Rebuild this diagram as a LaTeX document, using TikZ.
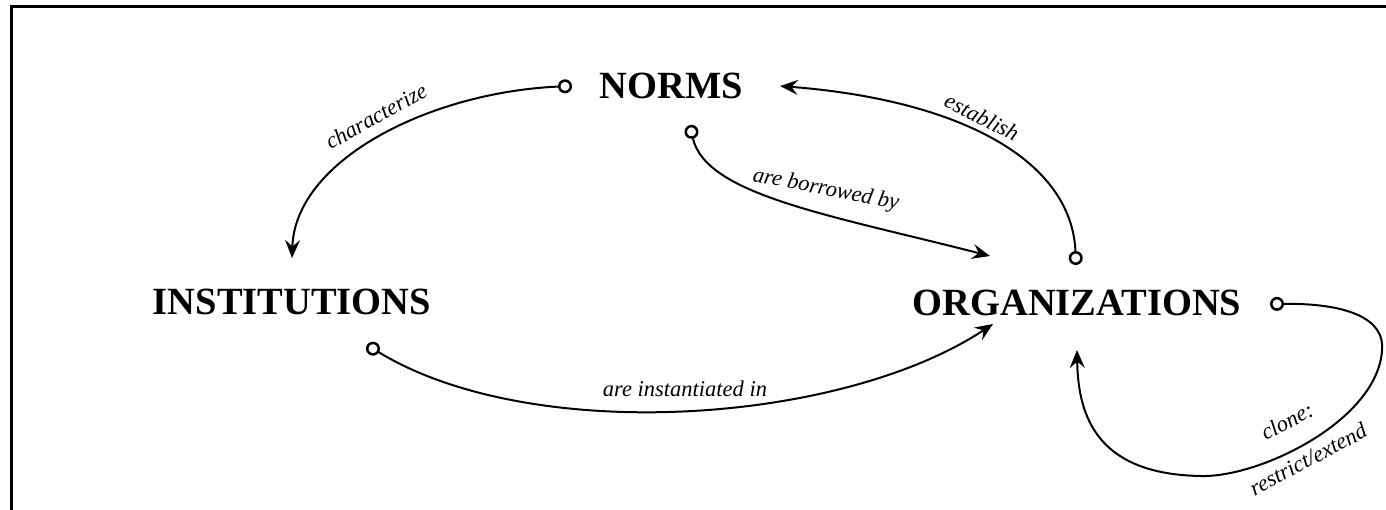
\documentclass[tikz,border=0pt]{standalone}
\usepackage{fontspec}
\setmainfont{Liberation Serif}
\usetikzlibrary{arrows.meta}
\begin{document}
\begin{tikzpicture}[x=1pt,y=-1pt,
  concept/.style={font=\fontsize{38.5}{40}\selectfont\bfseries, inner sep=0pt, anchor=base},
  lbl/.style={font=\fontsize{22.5}{24}\selectfont\itshape, inner sep=0pt},
  link/.style={line width=2pt, {Circle[open,length=14pt,line width=2.5pt]}-{Stealth[length=18pt,width=15pt,inset=6.5pt]}},
  frame/.style={line width=3pt}]
\useasboundingbox (0,0) rectangle (1386,510);
% frame
\coordinate (fa) at (11.5,512);
\coordinate (fb) at (11.5,6.5);
\coordinate (fc) at (1388,6.5);
\draw[frame] (fa) -- (fb) -- (fc);
% concepts
\node[concept] (norms) at (671.5,99) {NORMS};
\node[concept] (inst) at (292,315) {INSTITUTIONS};
\node[concept] (org) at (1077,316) {ORGANIZATIONS};
% connector end points
\coordinate (cn1) at (572,86);
\coordinate (ci1) at (292,258);
\coordinate (co1) at (1076,265);
\coordinate (cn2) at (780,86);
\coordinate (cn3) at (690,125);
\coordinate (co2) at (990,256);
\coordinate (ci2) at (367,345);
\coordinate (co3) at (993,324);
\coordinate (co4) at (1270,304);
\coordinate (co5) at (1077,350);
% connectors
\draw[link] (cn1) .. controls (430,92) and (295,160) .. (ci1);
\draw[link] (co1) .. controls (1072,160) and (960,100) .. (cn2);
\draw[link] (cn3) .. controls (705,195) and (830,215) .. (co2);
\draw[link] (ci2) .. controls (530,445) and (840,425) .. (co3);
\draw[link] (co4) .. controls (1350,303) and (1385,320) .. (1382,350)
  .. controls (1378,420) and (1260,478) .. (1200,476)
  .. controls (1100,474) and (1078,420) .. (co5);
% labels
\node[lbl, rotate=29] (l1) at (376,116) {characterize};
\node[lbl, rotate=-27] (l2) at (982,117) {establish};
\node[lbl, rotate=-11] (l3) at (826,190) {are borrowed by};
\node[lbl] (l4) at (685,389) {are instantiated in};
\node[lbl, rotate=28] (l5) at (1287,421) {clone:};
\node[lbl, rotate=28] (l6) at (1308,459) {restrict/extend};
\end{tikzpicture}
\end{document}
